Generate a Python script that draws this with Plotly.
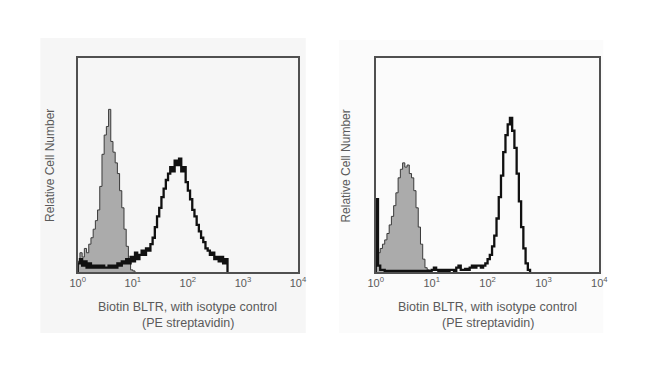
import plotly.graph_objects as go

# Histogram bins: log10 fluorescence, bin width 0.04 decades, starting at 10^0
BIN_WIDTH_DECADES = 0.04

# Left panel
gray_left = [5, 9, 7, 11, 9, 13, 16, 20, 24, 29, 40, 55, 64, 68, 76, 61, 56, 51,
             46, 38, 30, 20, 12, 4, 1, 0.5]
black_left = [4, 6, 3, 5, 2, 4, 2, 3, 2, 3, 2, 3, 2, 2, 3, 2, 3, 2, 4, 3, 5, 4, 6,
              4, 7, 5, 9, 6, 8, 10, 8, 11, 10, 13, 16, 21, 26, 30, 35, 39, 43, 46,
              49, 47, 52, 50, 53, 47, 49, 42, 38, 34, 29, 26, 22, 19, 16, 14, 11,
              10, 8, 9, 6, 7, 5, 7, 4, 6]

# Right panel
gray_right = [12, 9, 11, 13, 15, 18, 22, 26, 31, 37, 44, 48, 51, 49, 50, 46, 44,
              38, 30, 21, 13, 6, 2, 1]
black_right = [34, 3, 1, 1, 0.5, 0.5, 0.5, 0.5, 0.5, 0.5, 0.5, 0.5, 0.5, 0.5, 0.5,
               0.5, 0.5, 0.5, 0.5, 0.5, 0.5, 0.5, 0.5, 0.5, 0.5, 1, 2, 1, 0.5, 1,
               0.5, 1, 0.5, 1, 1, 0.5, 2, 3, 1, 1, 1.5, 1, 2, 3, 2, 3, 3, 2, 3, 4,
               6, 8, 12, 17, 25, 35, 45, 56, 64, 69, 72, 66, 58, 46, 33, 21, 11, 4, 1]

tick_vals = [1, 10, 100, 1000, 10000]
tick_text = ["10<sup>0</sup>", "10<sup>1</sup>", "10<sup>2</sup>", "10<sup>3</sup>", "10<sup>4</sup>"]
x_title = "Biotin BLTR, with isotype control"
x_title2 = "(PE streptavidin)"
y_title = "Relative Cell Number"

FONT = "Liberation Sans, Arial, sans-serif"
TEXT_COLOR = "#5a5a5a"


def step_xy(values):
    xs = [10 ** 0]
    ys = [0]
    for i, v in enumerate(values):
        xs.append(10 ** (i * BIN_WIDTH_DECADES))
        ys.append(v)
    xs.append(10 ** (len(values) * BIN_WIDTH_DECADES))
    ys.append(0)
    return xs, ys


fig = go.Figure()

panels = [
    (gray_left, black_left, "x", "y"),
    (gray_right, black_right, "x2", "y2"),
]
for g, b, xa, ya in panels:
    gx, gy = step_xy(g)
    fig.add_trace(go.Scatter(x=gx, y=gy, mode="lines", line_shape="hv",
                             fill="tozeroy", fillcolor="#ababab",
                             line=dict(color="#3a3a3a", width=1),
                             xaxis=xa, yaxis=ya, showlegend=False))
    bx, by = step_xy(b)
    fig.add_trace(go.Scatter(x=bx, y=by, mode="lines", line_shape="hv",
                             line=dict(color="#111111", width=2.3),
                             xaxis=xa, yaxis=ya, showlegend=False))

# page body has an 8px margin; keep the figure well inside the window
OFF = 8
W, H = 614, 340


def px(x):
    return (x - OFF) / W


def py(y):
    return 1 - (y - OFF) / H


left_dom = [px(71.5), px(298)]
right_dom = [px(378), px(608)]
y_dom = [py(272), py(58)]

xaxis_common = dict(type="log", range=[0, 4], tickvals=tick_vals, ticktext=tick_text,
                    showline=True, mirror=True, linecolor="#505050", linewidth=1.8,
                    showgrid=False, zeroline=False, ticks="", ticklen=0,
                    tickfont=dict(family=FONT, size=11, color=TEXT_COLOR))
yaxis_common = dict(range=[0, 100], showline=True, mirror=True, linecolor="#505050",
                    linewidth=1.8, showgrid=False, zeroline=False,
                    showticklabels=False, ticks="")

annotations = []
for dom, ylabel_x in ((left_dom, px(43)), (right_dom, px(347))):
    cx = (dom[0] + dom[1]) / 2
    annotations.append(dict(text=x_title, x=cx, y=py(307), xref="paper", yref="paper",
                            xanchor="center", yanchor="middle", showarrow=False,
                            font=dict(family=FONT, size=12.5, color=TEXT_COLOR)))
    annotations.append(dict(text=x_title2, x=cx, y=py(323), xref="paper", yref="paper",
                            xanchor="center", yanchor="middle", showarrow=False,
                            font=dict(family=FONT, size=12.5, color=TEXT_COLOR)))
    annotations.append(dict(text=y_title, x=ylabel_x, y=py(166), xref="paper", yref="paper",
                            xanchor="center", yanchor="middle",
                            textangle=-90, showarrow=False,
                            font=dict(family=FONT, size=12, color=TEXT_COLOR)))

shapes = [
    dict(type="rect", xref="paper", yref="paper", x0=px(33), x1=px(306),
         y0=py(333), y1=py(38), fillcolor="#f6f6f6", line=dict(width=0), layer="below"),
    dict(type="rect", xref="paper", yref="paper", x0=px(340), x1=px(612),
         y0=py(333), y1=py(40), fillcolor="#fbfbfb", line=dict(width=0), layer="below"),
]

fig.update_layout(
    width=W, height=H,
    margin=dict(l=0, r=0, t=0, b=0),
    paper_bgcolor="white", plot_bgcolor="white",
    xaxis=dict(domain=left_dom, anchor="y", **xaxis_common),
    yaxis=dict(domain=y_dom, anchor="x", **yaxis_common),
    xaxis2=dict(domain=right_dom, anchor="y2", **xaxis_common),
    yaxis2=dict(domain=y_dom, anchor="x2", **yaxis_common),
    annotations=annotations,
    shapes=shapes,
)

fig.write_html("out.html")
